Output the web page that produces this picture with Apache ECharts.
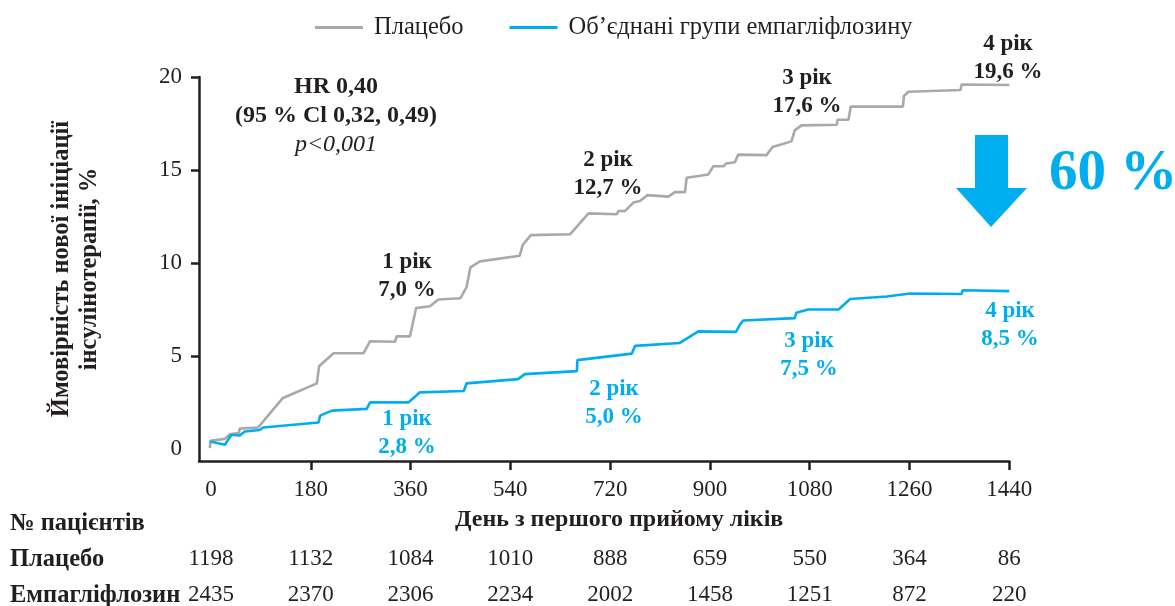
<!DOCTYPE html>
<html>
<head>
<meta charset="utf-8">
<script src="https://cdn.jsdelivr.net/npm/echarts@6/dist/echarts.min.js"></script>
<style>
html,body{margin:0;padding:0;background:#fff;}
#chart{width:1175px;height:606px;}
</style>
</head>
<body>
<div id="chart"></div>
<script>
// ---- data ----
var seriesNames = ['Плацебо', 'Об\u2019єднані групи емпагліфлозину'];
var placebo = [
  [-2,0.05],[-1,0.45],[25,0.55],[34,0.8],[50,0.86],[52,1.1],[85,1.16],[129,2.73],[191,3.53],[195,4.45],
  [221,5.15],[275,5.15],[287,5.8],[332,5.77],[335,6.06],[359,6.06],[370,7.58],[395,7.68],[410,8.04],
  [450,8.11],[461,8.7],[468,9.77],[485,10.09],[557,10.39],[562,10.96],[577,11.5],[648,11.55],[681,12.67],
  [732,12.62],[735,12.8],[747,12.8],[762,13.25],[774,13.33],[787,13.65],[825,13.57],[837,13.81],[855,13.81],
  [858,14.58],[897,14.76],[906,15.2],[925,15.2],[929,15.35],[945,15.42],[951,15.83],[1002,15.8],[1013,16.24],
  [1047,16.54],[1053,17.13],[1065,17.4],[1129,17.43],[1130,17.7],[1150,17.7],[1154,18.41],[1248,18.41],
  [1250,18.98],[1258,19.21],[1352,19.3],[1354,19.6],[1440,19.57]
];
var empa = [
  [-1,0.41],[25,0.23],[37,0.77],[52,0.73],[61,0.95],[88,1.03],[94,1.16],[194,1.43],[197,1.8],[218,2.07],
  [281,2.16],[287,2.51],[356,2.51],[377,3.05],[456,3.12],[461,3.53],[554,3.76],[566,4.03],[660,4.19],
  [661,4.78],[759,5.13],[765,5.55],[845,5.7],[879,6.33],[947,6.3],[954,6.68],[960,6.91],[1053,7.04],
  [1056,7.33],[1077,7.5],[1132,7.5],[1153,8.07],[1219,8.2],[1261,8.36],[1354,8.34],[1356,8.54],[1440,8.49]
];
var xTicks = [0,180,360,540,720,900,1080,1260,1440];
var yTicks = [0,5,10,15,20];
var atRiskPlacebo = [1198,1132,1084,1010,888,659,550,364,86];
var atRiskEmpa = [2435,2370,2306,2234,2002,1458,1251,872,220];
var rowLabels = ['№ пацієнтів','Плацебо','Емпагліфлозин'];
var xTitle = 'День з першого прийому ліків';
var yTitle = 'Ймовірність нової ініціації\nінсулінотерапії, %';

// ---- style ----
var GRAY = '#A7A9AC', BLUE = '#00AEEF', INK = '#231F20';
var SERIF = '"Liberation Serif","DejaVu Serif",serif';

var chart = echarts.init(document.getElementById('chart'), null, {renderer:'canvas'});

function tableAxis(values, margin){
  return {
    type:'value', min:-21.6, max:1440, position:'bottom', gridIndex:0,
    axisLine:{show:false, onZero:false}, axisTick:{show:false}, splitLine:{show:false},
    axisLabel:{
      customValues:xTicks, margin:margin, color:INK, fontFamily:SERIF, fontSize:23,
      formatter:function(v){ var i = xTicks.indexOf(v); return i>=0 ? String(values[i]) : ''; }
    }
  };
}

function txt(text, x, y, opts){
  opts = opts || {};
  return {
    type:'text', x:x, y:y, silent:true,
    style:{
      text:text, fill:opts.color||INK, align:opts.align||'center', verticalAlign:'middle',
      font:(opts.style||'normal')+' '+(opts.weight||'bold')+' '+(opts.size||23)+'px '+SERIF,
      lineHeight:opts.lh||28
    }
  };
}

var option = {
  backgroundColor:'#fff',
  animation:false,
  textStyle:{fontFamily:SERIF},
  legend:{
    data:seriesNames, left:310, top:10, icon:'rect', itemWidth:48, itemHeight:3, itemGap:46,
    textStyle:{fontFamily:SERIF, fontSize:24.5, color:INK, padding:[0,0,0,6]}
  },
  grid:{left:199, right:165.7, top:77, bottom:143, containLabel:false},
  xAxis:[
    {
      type:'value', min:-21.6, max:1440,
      name:xTitle, nameLocation:'middle', nameGap:47,
      nameTextStyle:{fontFamily:SERIF, fontSize:24, fontWeight:'bold', color:INK, padding:[0,0,0,30]},
      axisLine:{show:true, onZero:false, lineStyle:{color:INK, width:2.5}},
      axisTick:{show:true, customValues:xTicks.slice(1), length:9, lineStyle:{color:INK, width:2.5}},
      axisLabel:{customValues:xTicks, margin:17, color:INK, fontFamily:SERIF, fontSize:23,
                 formatter:function(v){ return String(v); }},
      splitLine:{show:false}
    },
    tableAxis(atRiskPlacebo, 86),
    tableAxis(atRiskEmpa, 122)
  ],
  yAxis:{
    type:'value', min:-0.64, max:20,
    name:yTitle, nameLocation:'middle', nameRotate:90, nameGap:95,
    nameTextStyle:{fontFamily:SERIF, fontSize:24.5, fontWeight:'bold', color:INK, lineHeight:28, align:'center'},
    axisLine:{show:true, onZero:false, lineStyle:{color:INK, width:2.5}},
    axisTick:{show:true, customValues:yTicks.slice(1), length:8, lineStyle:{color:INK, width:2.5}},
    axisLabel:{customValues:yTicks, margin:17, color:INK, fontFamily:SERIF, fontSize:23,
               formatter:function(v){ return String(v); }},
    splitLine:{show:false}
  },
  series:[
    {name:seriesNames[0], type:'line', data:placebo, showSymbol:false, symbol:'none',
     lineStyle:{color:GRAY, width:2.6}, itemStyle:{color:GRAY}, z:2},
    {name:seriesNames[1], type:'line', data:empa, showSymbol:false, symbol:'none',
     lineStyle:{color:BLUE, width:2.6}, itemStyle:{color:BLUE}, z:3}
  ],
  graphic:[
    txt('HR 0,40', 336, 87, {size:24}),
    txt('(95 % Cl 0,32, 0,49)', 336, 116, {size:24}),
    txt('p<0,001', 336, 145, {weight:'normal', style:'italic', size:24}),
    txt('1 рік\n7,0 %', 407, 276),
    txt('2 рік\n12,7 %', 608, 174),
    txt('3 рік\n17,6 %', 807, 92),
    txt('4 рік\n19,6 %', 1008, 58),
    txt('1 рік\n2,8 %', 407, 433, {color:BLUE}),
    txt('2 рік\n5,0 %', 614, 403, {color:BLUE}),
    txt('3 рік\n7,5 %', 809, 355, {color:BLUE}),
    txt('4 рік\n8,5 %', 1010, 325, {color:BLUE}),
    {type:'polygon', silent:true,
     shape:{points:[[975,135],[1008,135],[1008,188],[1027,188],[991,227],[956,188],[975,188]]},
     style:{fill:BLUE}},
    txt('60 %', 1049, 174, {color:BLUE, size:57, align:'left'}),
    txt(rowLabels[0], 10, 524, {align:'left', size:24.5}),
    txt(rowLabels[1], 10, 560, {align:'left', size:24.5}),
    txt(rowLabels[2], 10, 596, {align:'left', size:24.5})
  ]
};
chart.setOption(option);
</script>
</body>
</html>
